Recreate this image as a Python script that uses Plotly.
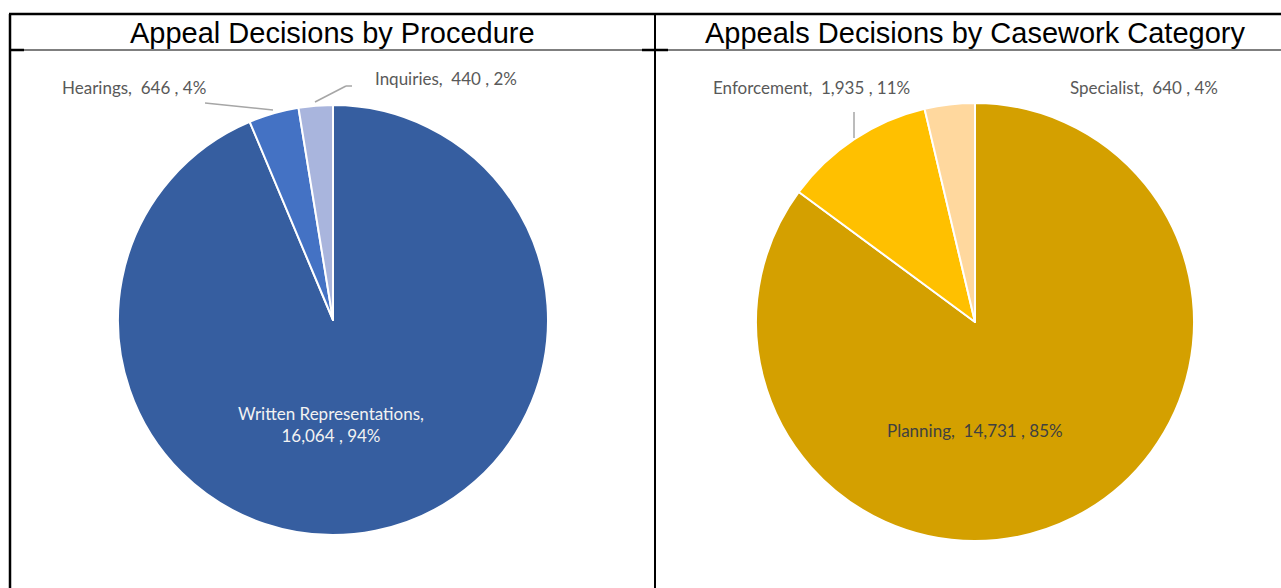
import plotly.graph_objects as go

W, H = 1281, 588

# Data
proc_labels = ["Written Representations", "Hearings", "Inquiries"]
proc_values = [16064, 646, 440]
proc_pct = ["94%", "4%", "2%"]
proc_colors = ["#365EA0", "#4472C4", "#A9B5DD"]

case_labels = ["Planning", "Enforcement", "Specialist"]
case_values = [14731, 1935, 640]
case_pct = ["85%", "11%", "4%"]
case_colors = ["#D4A000", "#FFC000", "#FFD89E"]

titles = ["Appeal Decisions by Procedure", "Appeals Decisions by Casework Category"]


def px(x):
    return x / W


def py(y):
    return 1 - y / H


def dom(cx, cy, r):
    return dict(x=[px(cx - r), px(cx + r)], y=[py(cy + r), py(cy - r)])


fig = go.Figure()
fig.add_trace(go.Pie(
    labels=proc_labels, values=proc_values, sort=False, direction="clockwise",
    rotation=0, marker=dict(colors=proc_colors, line=dict(color="white", width=2)),
    textinfo="none", hoverinfo="label+value+percent", showlegend=False,
    domain=dom(333, 320, 215)))
fig.add_trace(go.Pie(
    labels=case_labels, values=case_values, sort=False, direction="clockwise",
    rotation=0, marker=dict(colors=case_colors, line=dict(color="white", width=2)),
    textinfo="none", hoverinfo="label+value+percent", showlegend=False,
    domain=dom(975, 322, 219)))


def fmt(lbl, v, p):
    return f"{lbl},  {v:,} , {p}"


LF = "Lato"
FS = 17
grey = "#595959"
ann = []
# titles
ann.append(dict(x=px(332), y=py(33), text=titles[0], font=dict(family="Liberation Sans", size=29, color="black")))
ann.append(dict(x=px(975), y=py(33), text=titles[1], font=dict(family="Liberation Sans", size=29, color="black")))
# pie 1 labels
ann.append(dict(x=px(331), y=py(424), text=f"{proc_labels[0]},<br>{proc_values[0]:,} , {proc_pct[0]}",
                font=dict(family=LF, size=FS, color="#F2F2F2")))
ann.append(dict(x=px(134), y=py(88), text=fmt(proc_labels[1], proc_values[1], proc_pct[1]),
                font=dict(family=LF, size=FS, color=grey)))
ann.append(dict(x=px(446), y=py(78), text=fmt(proc_labels[2], proc_values[2], proc_pct[2]),
                font=dict(family=LF, size=FS, color=grey)))
# pie 2 labels
ann.append(dict(x=px(975), y=py(430), text=fmt(case_labels[0], case_values[0], case_pct[0]),
                font=dict(family=LF, size=FS, color="#404040")))
ann.append(dict(x=px(811), y=py(88), text=fmt(case_labels[1], case_values[1], case_pct[1]),
                font=dict(family=LF, size=FS, color=grey)))
ann.append(dict(x=px(1144), y=py(88), text=fmt(case_labels[2], case_values[2], case_pct[2]),
                font=dict(family=LF, size=FS, color=grey)))
for a in ann:
    a.update(xref="paper", yref="paper", showarrow=False, xanchor="center", yanchor="middle")

shapes = []


def line(x0, y0, x1, y1, w=1, c="black"):
    shapes.append(dict(type="line", xref="paper", yref="paper", x0=px(x0), y0=py(y0), x1=px(x1), y1=py(y1),
                       line=dict(color=c, width=w)))


# table borders
line(9, 14, 1281, 14, 2.5)
line(10, 14, 10, 588, 2.5)
line(655, 14, 655, 588, 2)
line(10, 50, 1281, 50, 1.2)
line(10, 50, 24, 50, 2.5)
line(642, 50, 668, 50, 2.5)
# leader lines
lc = "#A6A6A6"
line(205, 103, 273, 110, 1.5, lc)
line(315, 102, 346, 86, 1.5, lc)
line(346, 86, 352, 86, 1.5, lc)
line(854, 112, 854, 138, 1.5, lc)

fig.update_layout(width=W, height=H, margin=dict(l=0, r=0, t=0, b=0),
                  paper_bgcolor="white", plot_bgcolor="white",
                  annotations=ann, shapes=shapes)
fig.write_html("out.html", config={"displayModeBar": False},
               post_script="document.body.style.margin='0';document.body.style.overflow='hidden';")
